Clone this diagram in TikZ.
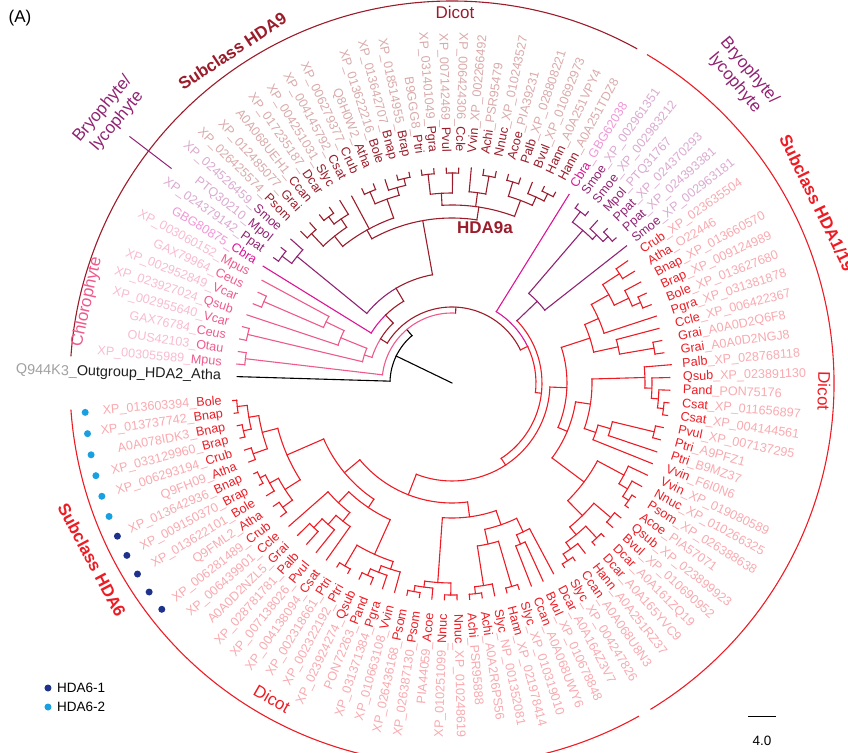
\documentclass[tikz,border=0pt]{standalone}
\usepackage{fontspec}
\setmainfont{Liberation Sans}
\definecolor{nD}{RGB}{155,28,42}
\definecolor{nL}{RGB}{218,170,170}
\definecolor{rD}{RGB}{237,28,36}
\definecolor{rL}{RGB}{248,170,175}
\definecolor{pD}{RGB}{145,35,115}
\definecolor{pL}{RGB}{218,170,208}
\definecolor{mD}{RGB}{220,20,150}
\definecolor{mL}{RGB}{240,150,215}
\definecolor{cD}{RGB}{238,90,140}
\definecolor{cL}{RGB}{248,188,208}
\definecolor{gL}{RGB}{160,160,160}
\definecolor{kD}{RGB}{30,30,30}
\definecolor{dotA}{RGB}{30,50,140}
\definecolor{dotB}{RGB}{25,160,225}
\newcommand\LR{231}
\newcommand\labL[4]{\pgfmathsetmacro\myang{178.3-3.337*(#1-1)}\node[lbl,anchor=east,rotate=\myang+180] (L#1) at (\myang:\LR) {\textcolor{#4L}{#2\_}\textcolor{#4D}{#3}};}
\newcommand\labR[4]{\pgfmathsetmacro\myang{178.3-3.337*(#1-1)}\node[lbl,anchor=west,rotate=\myang] (L#1) at (\myang:\LR) {\textcolor{#4D}{#3}\textcolor{#4L}{\_#2}};}
\newcommand\tb[4]{\draw[#1] ({178.3-3.337*(#2-1)}:#3) -- ({178.3-3.337*(#2-1)}:#4);}
\newcommand\ac[4]{\draw[#1] ({178.3-3.337*(#2-1)}:#4) arc[start angle={178.3-3.337*(#2-1)}, end angle={178.3-3.337*(#3-1)}, radius=#4];}
\newcommand\pr[4]{\ac{#1}{#2}{#2+1}{#3}\tb{#1}{#2}{#3}{#4}\tb{#1}{#2+1}{#3}{#4}}
\begin{document}
\begin{tikzpicture}[x=1pt,y=1pt,
  lbl/.style={font=\fontsize{12.6}{13}\selectfont, inner sep=0pt},
  br/.style={line width=1.1pt, line cap=rect},
  nB/.style={br, draw=nD}, rB/.style={br, draw=rD}, pB/.style={br, draw=pD},
  mB/.style={br, draw=mD}, cB/.style={br, draw=cD}, kB/.style={br, draw=black},
  outarc/.style={line width=1.1pt},
  big/.style={font=\fontsize{17}{19}\selectfont, inner sep=0pt},
  bigb/.style={font=\bfseries\fontsize{17}{19}\selectfont, inner sep=0pt}]
\useasboundingbox (-452,-369) rectangle (396,383);
% ---------- labels ----------
\pgfmathsetmacro\myang{178.3}
\node[font=\fontsize{14.4}{15}\selectfont, inner sep=0pt,anchor=east,rotate=\myang+180] (L1) at (\myang:\LR) {\textcolor{gL}{Q944K3\_}\textcolor{kD}{Outgroup\_HDA2\_Atha}};
\labL{2}{XP\_003055989}{Mpus}{c}
\labL{3}{OUS42103}{Otau}{c}
\labL{4}{GAX76784}{Ceus}{c}
\labL{5}{XP\_002955640}{Vcar}{c}
\labL{6}{XP\_023927024}{Qsub}{c}
\labL{7}{XP\_002952849}{Vcar}{c}
\labL{8}{GAX79964}{Ceus}{c}
\labL{9}{XP\_003060152}{Mpus}{c}
\labL{10}{GBG80875}{Cbra}{m}
\labL{11}{XP\_024379142}{Ppat}{p}
\labL{12}{PTQ30210}{Mpol}{p}
\labL{13}{XP\_024526459}{Smoe}{p}
\labL{14}{XP\_026425574}{Psom}{n}
\labL{15}{XP\_012485077}{Grai}{n}
\labL{16}{A0A068UEH1}{Ccan}{n}
\labL{17}{XP\_017235187}{Dcar}{n}
\labL{18}{XP\_004251031}{Slyc}{n}
\labL{19}{XP\_004145792}{Csat}{n}
\labL{20}{XP\_006279377}{Crub}{n}
\labL{21}{Q8H0W2}{Atha}{n}
\labL{22}{XP\_013622216}{Bole}{n}
\labL{23}{XP\_013642707}{Bnap}{n}
\labL{24}{XP\_018514955}{Brap}{n}
\labL{25}{B9GGG8}{Ptri}{n}
\labL{26}{XP\_031401049}{Pgra}{n}
\labL{27}{XP\_007142469}{Pvul}{n}
\labL{28}{XP\_006424306}{Ccle}{n}
\labR{29}{XP\_002266492}{Vvin}{n}
\labR{30}{PSR95479}{Achi}{n}
\labR{31}{XP\_010243527}{Nnuc}{n}
\labR{32}{PIA39231}{Acoe}{n}
\labR{33}{XP\_028808221}{Palb}{n}
\labR{34}{XP\_010692973}{Bvul}{n}
\labR{35}{A0A251VPY4}{Hann}{n}
\labR{36}{A0A251TDZ8}{Hann}{n}
\labR{37}{GBG62038}{Cbra}{m}
\labR{38}{XP\_002961351}{Smoe}{p}
\labR{39}{XP\_002983212}{Smoe}{p}
\labR{40}{PTQ31767}{Mpol}{p}
\labR{41}{XP\_024370293}{Ppat}{p}
\labR{42}{XP\_024393381}{Ppat}{p}
\labR{43}{XP\_002963181}{Smoe}{p}
\labR{44}{XP\_023635504}{Crub}{r}
\labR{45}{O22446}{Atha}{r}
\labR{46}{XP\_013660570}{Bnap}{r}
\labR{47}{XP\_009124989}{Brap}{r}
\labR{48}{XP\_013627680}{Bole}{r}
\labR{49}{XP\_031381878}{Pgra}{r}
\labR{50}{XP\_006422367}{Ccle}{r}
\labR{51}{A0A0D2Q6F8}{Grai}{r}
\labR{52}{A0A0D2NGJ8}{Grai}{r}
\labR{53}{XP\_028768118}{Palb}{r}
\labR{54}{XP\_023891130}{Qsub}{r}
\labR{55}{PON75176}{Pand}{r}
\labR{56}{XP\_011656897}{Csat}{r}
\labR{57}{XP\_004144561}{Csat}{r}
\labR{58}{XP\_007137295}{Pvul}{r}
\labR{59}{A9PFZ1}{Ptri}{r}
\labR{60}{B9MZ37}{Ptri}{r}
\labR{61}{F6I0N6}{Vvin}{r}
\labR{62}{XP\_019080589}{Vvin}{r}
\labR{63}{XP\_010266325}{Nnuc}{r}
\labR{64}{XP\_026388638}{Psom}{r}
\labR{65}{PIA57071}{Acoe}{r}
\labR{66}{XP\_023899923}{Qsub}{r}
\labR{67}{XP\_010690952}{Bvul}{r}
\labR{68}{A0A161ZQ19}{Dcar}{r}
\labR{69}{A0A165YVC9}{Dcar}{r}
\labR{70}{A0A251RZ37}{Hann}{r}
\labR{71}{A0A068U8N3}{Ccan}{r}
\labR{72}{XP\_004247826}{Slyc}{r}
\labR{73}{A0A164Z3V7}{Dcar}{r}
\labR{74}{XP\_010678848}{Bvul}{r}
\labR{75}{A0A068UWY6}{Ccan}{r}
\labR{76}{XP\_010319010}{Slyc}{r}
\labR{77}{XP\_021978414}{Hann}{r}
\labR{78}{NP\_001352081}{Slyc}{r}
\labR{79}{A0A2R6PS56}{Achi}{r}
\labR{80}{PSR95888}{Achi}{r}
\labR{81}{XP\_010248619}{Nnuc}{r}
\labL{82}{XP\_010251099}{Nnuc}{r}
\labL{83}{PIA44059}{Acoe}{r}
\labL{84}{XP\_026387130}{Psom}{r}
\labL{85}{XP\_026436168}{Psom}{r}
\labL{86}{XP\_010663108}{Vvin}{r}
\labL{87}{XP\_031371384}{Pgra}{r}
\labL{88}{PON72263}{Pand}{r}
\labL{89}{XP\_023924274}{Qsub}{r}
\labL{90}{XP\_002322192}{Ptri}{r}
\labL{91}{XP\_002318661}{Ptri}{r}
\labL{92}{XP\_004138094}{Csat}{r}
\labL{93}{XP\_007138026}{Pvul}{r}
\labL{94}{XP\_028781781}{Palb}{r}
\labL{95}{A0A0D2NZL5}{Grai}{r}
\labL{96}{XP\_006439901}{Ccle}{r}
\labL{97}{XP\_006281489}{Crub}{r}
\labL{98}{Q9FML2}{Atha}{r}
\labL{99}{XP\_013622101}{Bole}{r}
\labL{100}{XP\_009150370}{Brap}{r}
\labL{101}{XP\_013642936}{Bnap}{r}
\labL{102}{Q9FH09}{Atha}{r}
\labL{103}{XP\_006293194}{Crub}{r}
\labL{104}{XP\_033129960}{Brap}{r}
\labL{105}{A0A078IDK3}{Bnap}{r}
\labL{106}{XP\_013737742}{Bnap}{r}
\labL{107}{XP\_013603394}{Bole}{r}
% ---------- dots ----------
\foreach \i in {97,...,101} {\fill[dotA] ({178.3-3.337*(\i-1)}:368) circle[radius=3.5];}
\foreach \i in {102,...,107} {\fill[dotB] ({178.3-3.337*(\i-1)}:368) circle[radius=3.5];}
% ---------- outer arcs ----------
\draw[outarc, nD] (61:382) arc[start angle=61, end angle=176, radius=382];
\draw[outarc, rD] (59.3:382) arc[start angle=59.3, end angle=-58.7, radius=382];
\draw[outarc, rD] (-60.7:382) arc[start angle=-60.7, end angle=-176, radius=382];
\draw[line width=1pt, pD] (142.6:353) -- (142.6:406);
% ---------- group texts ----------
\node[bigb, nD, rotate=33.5] (tH9) at (123.5:398) {Subclass HDA9};
\node[big, nD] (tD1) at (3,371) {Dicot};
\node[big, pD, rotate=50, align=center] (tB1) at (-342,268) {Bryophyte/\\lycophyte};
\node[big, cD, rotate=77.5] (tC) at (-365,81) {Chlorophyte};
\node[big, pD, rotate=-50, align=center] (tB2) at (290,306) {Bryophyte/\\lycophyte};
\node[bigb, rD, rotate=-64] (tH1) at (365,180) {Subclass HDA1/19};
\node[big, rD, rotate=-91] (tD2) at (372,-8) {Dicot};
\node[bigb, rD, rotate=-62] (tH6) at (-360,-177) {Subclass HDA6};
\node[big, rD, rotate=-30] (tD3) at (-180,-316) {Dicot};
\node[bigb, nD] (t9a) at (33,155) {HDA9a};
\node[big] (tA) at (-432,365) {(A)};
% legend
\fill[dotA] (-404,-305) circle[radius=3.5];
\node[font=\fontsize{13.5}{15}\selectfont, anchor=west, inner sep=0pt] (lg1) at (-395,-305) {HDA6-1};
\fill[dotB] (-404,-324) circle[radius=3.5];
\node[font=\fontsize{13.5}{15}\selectfont, anchor=west, inner sep=0pt] (lg2) at (-395,-324) {HDA6-2};
% scale bar
\coordinate (sb1) at (296,-333); \coordinate (sb2) at (324,-333);
\draw[line width=1pt] (sb1) -- (sb2);
\node[font=\fontsize{13.5}{15}\selectfont] (sbl) at (310,-358) {4.0};
% ================= tree =================
\draw[kB] (0,0) -- (154.2:62);
\draw[kB] (130.2:62) arc[start angle=130.2, end angle=178.3, radius=62];
\draw[kB] (178.3:62) -- (178.3:215);
\draw[kB] (130.2:62) -- (130.2:70);
\ac{cB}{2.5}{28.34}{70}
\tb{cB}{2.5}{70}{208}
\pr{cB}{2}{208}{216}
\tb{nB}{28.34}{70}{76}
\ac{nB}{9.98}{46.7}{76}
\tb{nB}{9.98}{76}{84}
\ac{cB}{5.81}{9.98}{84}\ac{nB}{9.98}{14.15}{84}
\tb{cB}{5.81}{84}{92}
\ac{cB}{4.5}{7.125}{92}
\tb{cB}{4.5}{92}{210}\pr{cB}{4}{210}{217}
\tb{cB}{7.125}{92}{120}\ac{cB}{6}{8.25}{120}
\tb{cB}{6}{120}{216}
\tb{cB}{8.25}{120}{140}\ac{cB}{7.5}{9}{140}
\tb{cB}{7.5}{140}{205}\pr{cB}{7}{205}{214}
\tb{cB}{9}{140}{216}
\tb{nB}{14.15}{84}{95}
\ac{mB}{10}{14.15}{95}\ac{nB}{14.15}{18.3}{95}
\tb{mB}{10}{95}{222}
\tb{nB}{18.3}{95}{110}
\ac{pB}{12.25}{18.3}{110}\ac{nB}{18.3}{24.4}{110}
\tb{pB}{12.25}{110}{200}\ac{pB}{11.5}{13}{200}
\tb{pB}{11.5}{200}{212}\pr{pB}{11}{212}{218}
\tb{pB}{13}{200}{216}
\tb{nB}{24.4}{110}{165}\ac{nB}{18.75}{30.06}{165}
\tb{nB}{18.75}{165}{175}\ac{nB}{15.875}{21.625}{175}
\tb{nB}{15.875}{175}{188}\ac{nB}{14.5}{17.25}{188}
\tb{nB}{14.5}{188}{205}\pr{nB}{14}{205}{214}
\tb{nB}{17.25}{188}{198}\ac{nB}{16.5}{18}{198}
\tb{nB}{16.5}{198}{207}\pr{nB}{16}{207}{214}
\tb{nB}{18}{198}{214}
\tb{nB}{19}{175}{212}
\tb{nB}{21.625}{175}{195}\ac{nB}{20.5}{22.75}{195}
\tb{nB}{20.5}{195}{208}\pr{nB}{20}{208}{214}
\tb{nB}{22.75}{195}{203}\ac{nB}{22}{23.5}{203}
\tb{nB}{22}{203}{214}
\tb{nB}{23.5}{203}{210}\pr{nB}{23}{210}{215}
\tb{nB}{30.06}{165}{178}\ac{nB}{26.5}{33.625}{178}
\tb{nB}{26.5}{178}{190}\ac{nB}{25.5}{27.5}{190}
\tb{nB}{25.5}{190}{210}\pr{nB}{25}{210}{215}
\tb{nB}{27.5}{190}{210}\pr{nB}{27}{210}{215}
\tb{nB}{29.75}{178}{192}\ac{nB}{29}{30.5}{192}
\tb{nB}{29}{192}{216}
\tb{nB}{30.5}{192}{210}\pr{nB}{30}{210}{216}
\tb{nB}{33.625}{178}{195}\ac{nB}{32.5}{34.75}{195}
\tb{nB}{32.5}{195}{210}\pr{nB}{32}{210}{216}
\tb{nB}{34.75}{195}{204}\ac{nB}{34}{35.5}{204}
\tb{nB}{34}{204}{216}
\tb{nB}{35.5}{204}{212}\pr{nB}{35}{212}{217}
\tb{rB}{46.7}{76}{84}
\ac{mB}{37}{46.7}{84}\ac{rB}{46.7}{56.39}{84}
\tb{mB}{37}{84}{222}
\tb{rB}{56.39}{84}{90}
\ac{rB}{41.31}{71.47}{90}
\tb{pB}{41.31}{90}{118}\ac{pB}{39.625}{43}{118}
\tb{pB}{43}{118}{222}
\tb{pB}{39.625}{118}{201}\ac{pB}{38.5}{40.75}{201}
\tb{pB}{38.5}{201}{214}\pr{pB}{38}{214}{219}
\tb{pB}{40.75}{201}{207}\ac{pB}{40}{41.5}{207}
\tb{pB}{40}{207}{218}
\tb{pB}{41.5}{207}{214}\pr{pB}{41}{214}{219}
\tb{rB}{71.47}{90}{98}
\ac{rB}{55.14}{87.8}{98}
\tb{rB}{55.14}{98}{115}\ac{rB}{49.03}{61.25}{115}
\tb{rB}{49.03}{115}{145}\ac{rB}{47.31}{50.75}{145}
\tb{rB}{47.31}{145}{160}\ac{rB}{45.625}{49}{160}
\tb{rB}{49}{160}{215}
\tb{rB}{45.625}{160}{180}\ac{rB}{44.5}{46.75}{180}
\tb{rB}{44.5}{180}{200}\pr{rB}{44}{200}{214}
\tb{rB}{46.75}{180}{196}\ac{rB}{46}{47.5}{196}
\tb{rB}{46}{196}{214}
\tb{rB}{47.5}{196}{205}\pr{rB}{47}{205}{214}
\tb{rB}{50.75}{145}{170}\ac{rB}{50}{51.5}{170}
\tb{rB}{50}{170}{214}
\tb{rB}{51.5}{170}{205}\pr{rB}{51}{205}{214}
\tb{rB}{61.25}{115}{125}\ac{rB}{57.03}{65.47}{125}
\tb{rB}{57.03}{125}{140}\ac{rB}{53.94}{60.125}{140}
\tb{rB}{53.94}{140}{193}\ac{rB}{53}{54.875}{193}
\tb{rB}{53}{193}{220}
\tb{rB}{54.875}{193}{200}\ac{rB}{54}{55.75}{200}
\tb{rB}{54}{200}{218}
\tb{rB}{55.75}{200}{207}\ac{rB}{55}{56.5}{207}
\tb{rB}{55}{207}{218}
\tb{rB}{56.5}{207}{213}\pr{rB}{56}{213}{218}
\tb{rB}{60.125}{140}{152}\ac{rB}{59.25}{61}{152}
\tb{rB}{61}{152}{216}
\tb{rB}{59.25}{152}{165}\ac{rB}{58.5}{60}{165}
\tb{rB}{60}{165}{216}
\tb{rB}{58.5}{165}{208}\pr{rB}{58}{208}{216}
\tb{rB}{65.47}{125}{165}\ac{rB}{62.875}{68.06}{165}
\tb{rB}{62.875}{165}{195}\ac{rB}{62}{63.75}{195}
\tb{rB}{62}{195}{216}
\tb{rB}{63.75}{195}{205}\ac{rB}{63}{64.5}{205}
\tb{rB}{63}{205}{216}
\tb{rB}{64.5}{205}{212}\pr{rB}{64}{212}{216}
\tb{rB}{68.06}{165}{186}\ac{rB}{66.5}{69.625}{186}
\tb{rB}{66.5}{186}{208}\pr{rB}{66}{208}{216}
\tb{rB}{69.625}{186}{196}\ac{rB}{68.5}{70.75}{196}
\tb{rB}{68.5}{196}{212}\pr{rB}{68}{212}{216}
\tb{rB}{70.75}{196}{204}\ac{rB}{70}{71.5}{204}
\tb{rB}{70}{204}{216}
\tb{rB}{71.5}{204}{212}\pr{rB}{71}{212}{216}
\tb{rB}{87.8}{98}{120}\ac{rB}{79.16}{96.44}{120}
\tb{rB}{79.16}{120}{135}\ac{rB}{75.69}{82.625}{135}
\tb{rB}{75.69}{135}{150}\ac{rB}{73.75}{77.625}{150}
\tb{rB}{73.75}{150}{165}\ac{rB}{73}{74.5}{165}
\tb{rB}{73}{165}{216}
\tb{rB}{74.5}{165}{175}\pr{rB}{74}{175}{218}
\tb{rB}{77.625}{150}{165}\ac{rB}{76.5}{78.75}{165}
\tb{rB}{76.5}{165}{212}\pr{rB}{76}{212}{217}
\tb{rB}{78.75}{165}{205}\ac{rB}{78}{79.5}{205}
\tb{rB}{78}{205}{217}
\tb{rB}{79.5}{205}{212}\pr{rB}{79}{212}{217}
\tb{rB}{82.625}{135}{200}\ac{rB}{81.5}{83.75}{200}
\tb{rB}{81.5}{200}{212}\pr{rB}{81}{212}{217}
\tb{rB}{83.75}{200}{206}\ac{rB}{83}{84.5}{206}
\tb{rB}{83}{206}{217}
\tb{rB}{84.5}{206}{212}\pr{rB}{84}{212}{217}
\tb{rB}{96.44}{120}{140}\ac{rB}{91.56}{101.31}{140}
\tb{rB}{91.56}{140}{150}\ac{rB}{88.69}{94.44}{150}
\tb{rB}{88.69}{150}{188}\ac{rB}{86.875}{90.5}{188}
\tb{rB}{86.875}{188}{196}\ac{rB}{86}{87.75}{196}
\tb{rB}{86}{196}{217}
\tb{rB}{87.75}{196}{203}\ac{rB}{87}{88.5}{203}
\tb{rB}{87}{203}{217}
\tb{rB}{88.5}{203}{210}\pr{rB}{88}{210}{217}
\tb{rB}{90.5}{188}{212}\pr{rB}{90}{212}{217}
\tb{rB}{94.44}{150}{165}\ac{rB}{92.875}{96}{165}
\tb{rB}{96}{165}{217}
\tb{rB}{92.875}{165}{176}\ac{rB}{92}{93.75}{176}
\tb{rB}{92}{176}{217}
\tb{rB}{93.75}{176}{188}\ac{rB}{93}{94.5}{188}
\tb{rB}{93}{188}{217}
\tb{rB}{94.5}{188}{200}\pr{rB}{94}{200}{217}
\tb{rB}{101.31}{140}{180}\ac{rB}{98.625}{104}{180}
\tb{rB}{98.625}{180}{198}\ac{rB}{97.5}{99.75}{198}
\tb{rB}{97.5}{198}{210}\pr{rB}{97}{210}{217}
\tb{rB}{99.75}{198}{208}\ac{rB}{99}{100.5}{208}
\tb{rB}{99}{208}{217}
\tb{rB}{100.5}{208}{214}\pr{rB}{100}{214}{218}
\tb{rB}{104}{180}{196}\ac{rB}{102.5}{105.5}{196}
\tb{rB}{102.5}{196}{211}\pr{rB}{102}{211}{218}
\tb{rB}{105.5}{196}{206}\ac{rB}{104.5}{106.5}{206}
\tb{rB}{104.5}{206}{214}\pr{rB}{104}{214}{219}
\tb{rB}{106.5}{206}{216}\pr{rB}{106}{216}{220}
\end{tikzpicture}
\end{document}
